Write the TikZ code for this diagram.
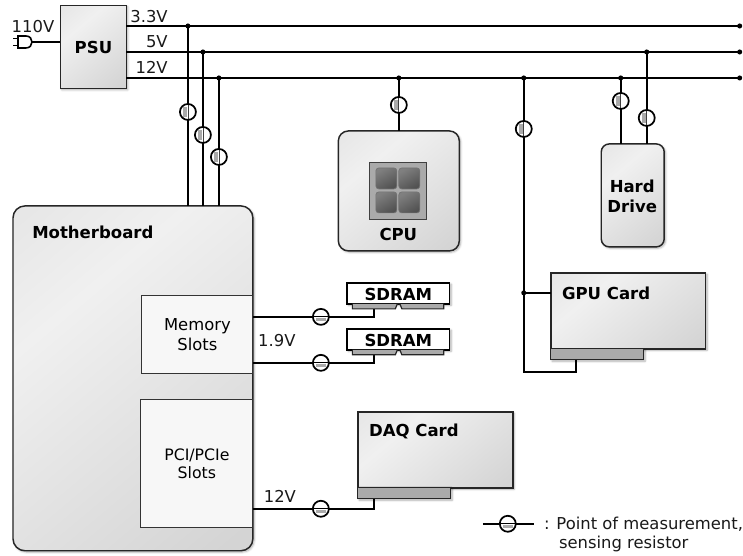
\documentclass[tikz,border=0pt]{standalone}
\usepackage{fontspec}
\setmainfont{DejaVu Sans}
\usetikzlibrary{shadows.blur, calc}
\definecolor{slotgray}{RGB}{170, 170, 170}
\definecolor{socketfill}{RGB}{247, 247, 247}
\definecolor{boardlow}{RGB}{212, 212, 212}
\definecolor{boardhigh}{RGB}{240, 240, 240}
\definecolor{boardedge}{RGB}{230, 230, 230}
\pgfdeclareverticalshading{boardshade}{100bp}{color(0bp)=(boardlow); color(18bp)=(boardlow);
    color(66bp)=(boardhigh); color(85bp)=(boardedge); color(100bp)=(boardedge)}

\begin{document}
\begin{tikzpicture}[x=0.75pt, y=-0.75pt,
    font=\fontsize{12.3}{15}\selectfont,
    soft/.style={
        blur shadow={shadow blur steps=6, shadow blur extra rounding=0pt, shadow blur radius=1.6pt,
                     shadow xshift=1pt, shadow yshift=-1pt, shadow opacity=32}
    },
    board_box/.style={
        draw=black!85, line width=1.1pt, outer sep=0pt, inner sep=0pt, soft,
        shade, shading=boardshade, shading angle=40
    },
    round_box/.style={board_box, rounded corners=#1},
    socket/.style={
        draw=black!80, line width=0.7pt, outer sep=0pt, inner sep=0pt,
        fill=socketfill, align=center
    },
    card_slot/.style={
        draw=black!85, line width=0.9pt, outer sep=0pt, fill=slotgray,
        minimum width=69.75pt, minimum height=8.25pt, soft
    },
    dimm/.style={
        draw=black, line width=1pt, outer sep=0pt, inner sep=0pt, fill=white,
        minimum width=77.25pt, minimum height=15.75pt, soft
    },
    core/.style={
        draw=black!55, line width=0.5pt, rounded corners=2.2pt, outer sep=0pt,
        minimum size=15.75pt, inner sep=0pt,
        top color=black!50, bottom color=black!68, shading angle=30
    },
    sense_v/.style={
        circle, draw=black, line width=1.3pt, fill=white, minimum size=12pt,
        inner sep=0pt, outer sep=0pt,
        path picture={
            \fill[slotgray] ($(path picture bounding box.center)+(-3.6pt,-3.9pt)$)
                rectangle ($(path picture bounding box.center)+(-0.9pt,3.9pt)$);
            \draw[black!75, line width=0.6pt] ($(path picture bounding box.center)+(0pt,-7pt)$)
                -- ($(path picture bounding box.center)+(0pt,7pt)$);
        }
    },
    sense_h/.style={
        circle, draw=black, line width=1.3pt, fill=white, minimum size=12pt,
        inner sep=0pt, outer sep=0pt,
        path picture={
            \fill[slotgray] ($(path picture bounding box.center)+(-3.9pt,-3.4pt)$)
                rectangle ($(path picture bounding box.center)+(3.9pt,-0.7pt)$);
            \draw[black, line width=0.9pt] ($(path picture bounding box.center)+(-7pt,0pt)$)
                -- ($(path picture bounding box.center)+(7pt,0pt)$);
        }
    },
    wire/.style={-, line width=1.5pt, black},
    tlab/.style={inner sep=0pt, text=black!90},
    blab/.style={inner sep=0pt, text=black, font=\fontsize{12.4}{15.6}\selectfont\bfseries, align=center},
]

\newcommand{\dimmfoot}[1]{%
    \draw[draw=black!85, line width=0.9pt, fill=slotgray]
        ($(#1.south)+(-34.5pt,0pt)$) -- ++(0pt,-3.75pt) -- ++(32.25pt,0pt) -- ++(1.5pt,3.75pt) -- ++(1.9pt,0pt)
        -- ++(1.5pt,-3.75pt) -- ++(31.5pt,0pt) -- ++(0pt,3.75pt);
}

    % --- rails and tap points ---
    \coordinate (tap33) at (188,26);
    \coordinate (tap5)  at (203,52);
    \coordinate (tap12) at (219,78);
    \coordinate (tapcpu) at (399,78);
    \coordinate (tapgpu) at (524,78);
    \coordinate (taphda) at (621,78);
    \coordinate (taphdb) at (647,52);
    \coordinate (end33) at (740,26);
    \coordinate (end5)  at (740,52);
    \coordinate (end12) at (740,78);
    \coordinate (plug)  at (32,42);

    % --- main boxes ---
    \node[board_box, minimum width=49.5pt, minimum height=62.25pt] (PSU) at (93.5,47) {};
    \node[round_box=9pt, minimum width=180pt, minimum height=258.75pt] (MB) at (133,378.5) {};
    \node[round_box=7.5pt, minimum width=90.75pt, minimum height=90pt] (CPU) at (399,191) {};
    \node[round_box=6pt, minimum width=47.25pt, minimum height=77.25pt] (HDD) at (633,195.5) {};

    \draw[wire] (PSU.east |- end33) -- (end33);
    \draw[wire] (PSU.east |- end5)  -- (end5);
    \draw[wire] (PSU.east |- end12) -- (end12);
    \draw[wire] (PSU.west |- plug)  -- (plug);

    \draw[wire] (tap33) -- (tap33 |- MB.north);
    \draw[wire] (tap5)  -- (tap5 |- MB.north);
    \draw[wire] (tap12) -- (tap12 |- MB.north);
    \draw[wire] (tapcpu) -- (tapcpu |- CPU.north);
    \draw[wire] (taphda) -- (taphda |- HDD.north);
    \draw[wire] (taphdb) -- (taphdb |- HDD.north);

    \foreach \t in {tap33, tap5, tap12, tapcpu, tapgpu, taphda, taphdb, end33, end5, end12}
        \fill[black] (\t) circle (1.9pt);

    % --- plug ---
    \draw[wire, line width=1.2pt, fill=white] (18,36) -- (26,36) .. controls (30,36) and (32,39) .. (plug)
        .. controls (32,45) and (30,48) .. (26,48) -- (18,48) -- cycle;
    \draw[wire, line width=1.2pt] (18,38.5) -- (13.5,38.5);
    \draw[wire, line width=1.2pt] (18,45.5) -- (13.5,45.5);

    % --- slots on the board ---
    \node[socket, minimum width=83.25pt, minimum height=58.5pt] (MEM) at (197.5,335) {\raisebox{-0.7pt}{Memory}\\[-0.3pt]\raisebox{-0.7pt}{Slots}};
    \node[socket, minimum width=84pt, minimum height=96pt, font=\fontsize{11.8}{13.8}\selectfont] (PCI) at (197,464) {PCI/PCIe\\Slots};

    % --- cpu die ---
    \node[draw=black!75, line width=0.8pt, fill=slotgray, minimum size=42.75pt, inner sep=0pt] (die) at (398.5,191) {};
    \node[core] (c1) at (386.5,178.5) {};
    \node[core] (c2) at (409.5,178.5) {};
    \node[core] (c3) at (386.5,202.5) {};
    \node[core] (c4) at (409.5,202.5) {};

    % --- memory branch ---
    \coordinate (pinA) at (374,309);
    \coordinate (pinB) at (374,355);
    \coordinate (kneeA) at (374,317);
    \coordinate (kneeB) at (374,363);
    \draw[wire] (MEM.east |- kneeA) -- (kneeA) -- (pinA);
    \draw[wire] (MEM.east |- kneeB) -- (kneeB) -- (pinB);
    \node[dimm] (SDa) at (398.5,293.5) {};
    \node[dimm] (SDb) at (398.5,339.5) {};
    \dimmfoot{SDa}
    \dimmfoot{SDb}
    \node[blab] (SDaT) at (398.5,294.5) {SDRAM};
    \node[blab] (SDbT) at (398.5,340.5) {SDRAM};

    % --- cards ---
    \coordinate (pinD) at (374,498);
    \coordinate (kneeD) at (374,509);
    \coordinate (pinG) at (576,360);
    \coordinate (kneeG) at (576,372);
    \coordinate (turnG) at (524,372);
    \draw[wire] (PCI.east |- kneeD) -- (MB.east |- kneeD) -- (kneeD) -- (pinD);
    \draw[wire] (tapgpu) -- (turnG) -- (kneeG) -- (pinG);

    \node[board_box, anchor=north west, minimum width=116.25pt, minimum height=57pt] (GPU) at (551,273) {};
    \node[board_box, anchor=north west, minimum width=116.25pt, minimum height=57pt] (DAQ) at (358,412) {};
    \node[card_slot, anchor=north west] (GPUslot) at (GPU.south west) {};
    \node[card_slot, anchor=north west] (DAQslot) at (DAQ.south west) {};
    \coordinate (tapcard) at (tapgpu |- 0,293);
    \draw[wire] (tapcard) -- (tapcard -| GPU.west);
    \fill[black] (tapcard) circle (1.9pt);

    % --- sensing resistors ---
    \node[sense_v] (Rv33) at (188,112) {};
    \node[sense_v] (Rv5)  at (203,135) {};
    \node[sense_v] (Rv12) at (219,157) {};
    \node[sense_v] (Rcpu) at (399,105) {};
    \node[sense_v] (Rgpu) at (524,129) {};
    \node[sense_v] (Rhda) at (621,101) {};
    \node[sense_v] (Rhdb) at (647,118) {};
    \node[sense_h] (Rma)  at (321,317) {};
    \node[sense_h] (Rmb)  at (321,363) {};
    \node[sense_h] (Rdaq) at (321,509) {};

    % --- labels ---
    \node[tlab] (l110) at (33,26.5) {110V};
    \node[tlab, anchor=east] (l33) at (168,16.5) {3.3V};
    \node[tlab, anchor=east] (l5)  at (168,41.5) {5V};
    \node[tlab, anchor=east] (l12) at (168,67.5) {12V};
    \node[tlab] (l19) at (277,340.5) {1.9V};
    \node[tlab] (l12b) at (280,496.5) {12V};
    \node[blab] (tPSU) at (93.5,48) {PSU};
    \node[blab, anchor=west] (tMB) at (32,232) {Motherboard};
    \node[blab] (tCPU) at (398.5,235) {CPU};
    \node[blab] (tHDD) at (632.5,196.5) {Hard\\[-0.1pt]Drive};
    \node[blab, anchor=west] (tGPU) at (562,293) {GPU Card};
    \node[blab, anchor=west] (tDAQ) at (369,432) {DAQ Card};

    % --- legend ---
    \coordinate (legA) at (483,524);
    \coordinate (legB) at (534,524);
    \draw[wire] (legA) -- (legB);
    \node[sense_h] (Rleg) at (508,524) {};
    \node[tlab, anchor=west] (tlegA) at (544,524) {: Point of measurement,};
    \node[tlab, anchor=west] (tlegB) at (559,544) {sensing resistor};

    \useasboundingbox (0,0) rectangle (743,556);
\end{tikzpicture}
\end{document}
